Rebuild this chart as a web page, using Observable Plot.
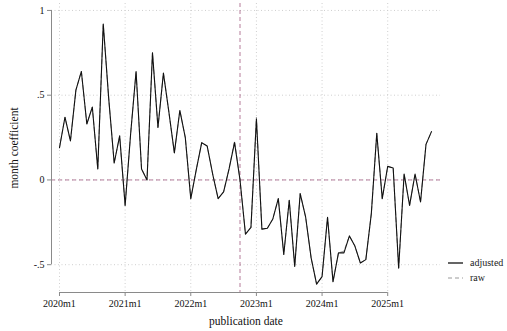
<!DOCTYPE html>
<html>
<head>
<meta charset="utf-8">
<script src="https://cdn.jsdelivr.net/npm/d3@7"></script>
<script src="https://cdn.jsdelivr.net/npm/@observablehq/plot@0.6"></script>
<style>
  html, body { margin: 0; padding: 0; background: #fff; }
  #wrap { position: relative; width: 507px; height: 331px; font-family: 'Liberation Serif', 'Times New Roman', serif; }
  #chart svg, #chart svg text { font-family: 'Liberation Serif', 'Times New Roman', serif !important; }
  #legend { position: absolute; left: 448px; top: 255px; font-size: 10px; color: #222; line-height: 15px; font-family: 'Liberation Serif', 'Times New Roman', serif; }
  #legend div { display: flex; align-items: center; white-space: nowrap; }
  #legend svg { margin-right: 7px; }
</style>
</head>
<body>
<div id="wrap">
  <div id="chart"></div>
  <div id="legend"></div>
</div>
<script>
// ---- data ----
const startYear = 2020;
const adjusted = [0.19,0.37,0.23,0.53,0.64,0.33,0.43,0.065,0.92,0.48,
                  0.10,0.26,-0.15,0.27,0.64,0.065,0.0,0.75,0.31,0.63,
                  0.40,0.16,0.41,0.25,-0.11,0.06,0.22,0.20,0.035,-0.11,
                  -0.07,0.065,0.22,0.0,-0.32,-0.28,0.36,-0.29,-0.285,-0.23,
                  -0.11,-0.44,-0.12,-0.51,-0.08,-0.22,-0.46,-0.615,-0.57,-0.22,
                  -0.60,-0.43,-0.43,-0.33,-0.39,-0.49,-0.47,-0.20,0.275,-0.11,
                  0.08,0.07,-0.52,0.035,-0.15,0.035,-0.13,0.21,0.285];
const raw      = [0.19,0.37,0.23,0.53,0.64,0.33,0.43,0.065,0.92,0.48,
                  0.10,0.26,-0.15,0.27,0.64,0.065,0.0,0.75,0.31,0.63,
                  0.40,0.16,0.41,0.25,-0.11,0.06,0.22,0.20,0.035,-0.11,
                  -0.07,0.065,0.23,0.0,-0.32,-0.28,0.37,-0.29,-0.285,-0.23,
                  -0.11,-0.44,-0.12,-0.51,-0.08,-0.22,-0.46,-0.615,-0.57,-0.22,
                  -0.60,-0.43,-0.42,-0.33,-0.39,-0.49,-0.47,-0.20,0.275,-0.11,
                  0.08,0.07,-0.52,0.035,-0.15,0.035,-0.13,0.21,0.285];
const xTickLabels = ["2020m1","2021m1","2022m1","2023m1","2024m1","2025m1"];
const yTicks = [-0.5, 0, 0.5, 1];
const eventMonth = "2022m10";
const seriesNames = ["adjusted", "raw"];

// ---- build table ----
const months = adjusted.map((_, i) => `${startYear + Math.floor(i / 12)}m${(i % 12) + 1}`);
const rows = [];
adjusted.forEach((v, i) => rows.push({i, month: months[i], value: v, series: "adjusted"}));
raw.forEach((v, i) => rows.push({i, month: months[i], value: v, series: "raw"}));
const xTicks = xTickLabels.map(l => months.indexOf(l));
const eventIdx = months.indexOf(eventMonth);

const xDomain = [-1.46, 69.65];
const yDomain = [-0.664, 1.041];
const fmtY = d => d === 0 ? "0" : String(d).replace(/^(-?)0\./, "$1.");

const refColor = "#a25a80";
const axisColor = "#8a8a8a";
const gridColor = "#cfcfcf";

const chart = Plot.plot({
  width: 507,
  height: 331,
  marginLeft: 51,
  marginRight: 67,
  marginTop: 3,
  marginBottom: 39,
  style: {fontSize: "10px", color: "#111", background: "#fff"},
  x: {domain: xDomain},
  y: {domain: yDomain},
  marks: [
    Plot.gridX(xTicks, {stroke: gridColor, strokeOpacity: 1, strokeDasharray: "1,2.5"}),
    Plot.gridY(yTicks, {stroke: gridColor, strokeOpacity: 1, strokeDasharray: "1,2.5"}),
    Plot.ruleY([0], {stroke: refColor, strokeDasharray: "4,3", strokeWidth: 0.8}),
    Plot.ruleX([eventIdx], {stroke: refColor, strokeDasharray: "4,3", strokeWidth: 0.8}),
    // axis lines spanning the tick range (Stata style)
    Plot.ruleX([xDomain[0]], {y1: d3.min(yTicks), y2: d3.max(yTicks), stroke: axisColor, strokeWidth: 1}),
    Plot.ruleY([yDomain[0]], {x1: d3.min(xTicks), x2: d3.max(xTicks), stroke: axisColor, strokeWidth: 1}),
    Plot.axisY(yTicks, {tickFormat: fmtY, tickSize: 4, tickPadding: 3, stroke: axisColor, fill: "#111",
      label: "month coefficient", labelAnchor: "center", labelArrow: "none", labelOffset: 42}),
    Plot.axisX(xTicks, {tickFormat: i => months[i], tickSize: 4, tickPadding: 3, stroke: axisColor, fill: "#111",
      label: "publication date", labelAnchor: "center", labelArrow: "none", labelOffset: 32}),
    Plot.line(rows.filter(d => d.series === "raw"), {x: "i", y: "value", stroke: "#9a9a9a", strokeWidth: 1, strokeDasharray: "4,3"}),
    Plot.line(rows.filter(d => d.series === "adjusted"), {x: "i", y: "value", stroke: "#111", strokeWidth: 1.1})
  ]
});
chart.querySelectorAll("g[aria-label='x-axis label'] text, g[aria-label='y-axis label'] text").forEach(t => t.setAttribute("font-size", "11.5"));
document.getElementById("chart").appendChild(chart);

// legend
const legend = document.getElementById("legend");
const styles = {adjusted: {stroke: "#111", dash: null, w: 1.3}, raw: {stroke: "#9a9a9a", dash: "4,3", w: 1}};
seriesNames.forEach(name => {
  const s = styles[name];
  const row = document.createElement("div");
  row.innerHTML = `<svg width="15" height="6"><line x1="0" x2="15" y1="3" y2="3" stroke="${s.stroke}" stroke-width="${s.w}" ${s.dash ? `stroke-dasharray="${s.dash}"` : ""}/></svg><span>${name}</span>`;
  legend.appendChild(row);
});
</script>
</body>
</html>
